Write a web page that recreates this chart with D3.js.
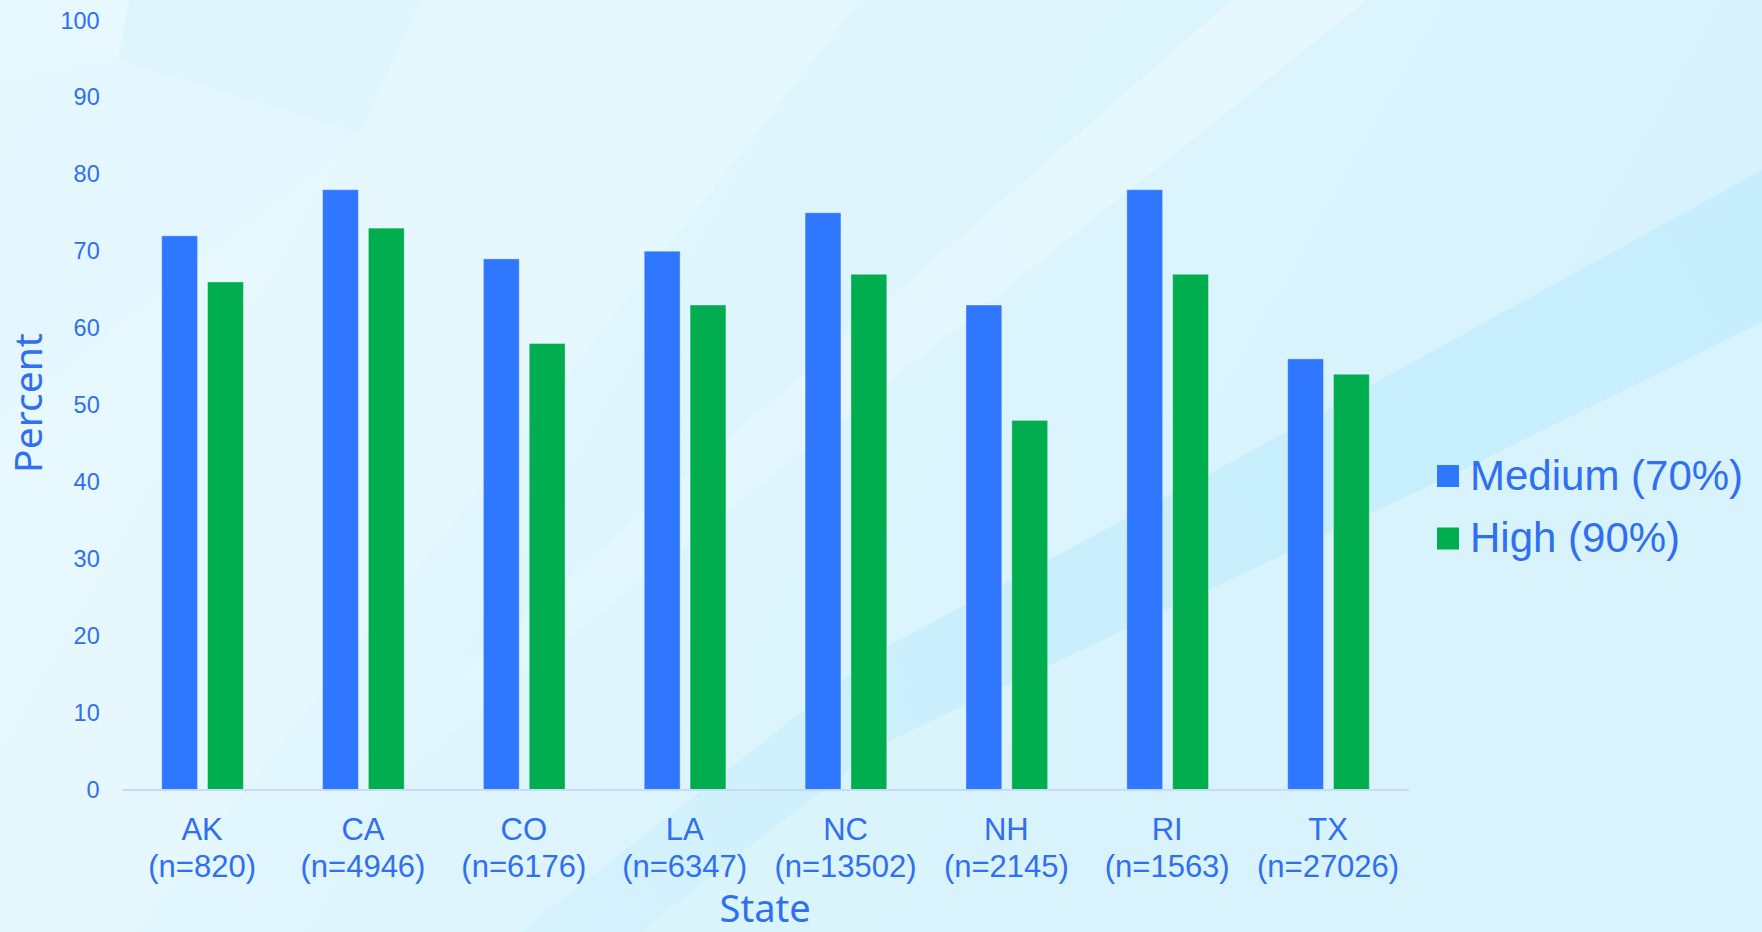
<!DOCTYPE html>
<html>
<head>
<meta charset="utf-8">
<script src="https://cdn.jsdelivr.net/npm/d3@7"></script>
<style>
  html, body { margin: 0; padding: 0; background: #d8f3fc; }
  svg { display: block; }
</style>
</head>
<body>
<svg id="chart" width="1762" height="932"></svg>
<script>
// ---- data ----
const states = ["AK", "CA", "CO", "LA", "NC", "NH", "RI", "TX"];
const sampleSizes = [820, 4946, 6176, 6347, 13502, 2145, 1563, 27026];
const seriesNames = ["Medium (70%)", "High (90%)"];
const mediumValues = [72, 78, 69, 70, 75, 63, 78, 56];
const highValues = [66, 73, 58, 63, 67, 48, 67, 54];
const yTicks = [0, 10, 20, 30, 40, 50, 60, 70, 80, 90, 100];

const seriesValues = [mediumValues, highValues];
const seriesColors = ["#3077ff", "#00ae4f"];

const W = 1762, H = 932;
const plot = { left: 121.7, right: 1408.5, top: 20.5, bottom: 789.5 };
const textBlue = "#2f6ff0";

const svg = d3.select("#chart");

// ---- decorative background ----
const defs = svg.append("defs");
const baseGrad = defs.append("linearGradient").attr("id", "bgBase")
  .attr("x1", "0").attr("y1", "0").attr("x2", "1").attr("y2", "0.3");
baseGrad.append("stop").attr("offset", "0").attr("stop-color", "#e9f9fe");
baseGrad.append("stop").attr("offset", "0.45").attr("stop-color", "#dff5fd");
baseGrad.append("stop").attr("offset", "1").attr("stop-color", "#d6f2fc");

const stripeGrad = defs.append("linearGradient").attr("id", "bgStripe")
  .attr("x1", "0").attr("y1", "0").attr("x2", "0").attr("y2", "1");
stripeGrad.append("stop").attr("offset", "0").attr("stop-color", "#e6f8fe").attr("stop-opacity", 1);
stripeGrad.append("stop").attr("offset", "0.75").attr("stop-color", "#e6f8fe").attr("stop-opacity", 0.5);
stripeGrad.append("stop").attr("offset", "1").attr("stop-color", "#e6f8fe").attr("stop-opacity", 0);

const bandGrad = defs.append("linearGradient").attr("id", "bgBand")
  .attr("gradientUnits", "userSpaceOnUse")
  .attr("x1", 1762).attr("y1", 240).attr("x2", 500).attr("y2", 932);
bandGrad.append("stop").attr("offset", "0").attr("stop-color", "#c6eefc").attr("stop-opacity", 1);
bandGrad.append("stop").attr("offset", "0.6").attr("stop-color", "#c6eefc").attr("stop-opacity", 0.85);
bandGrad.append("stop").attr("offset", "1").attr("stop-color", "#c6eefc").attr("stop-opacity", 0.3);

const bg = svg.append("g").attr("class", "background");
bg.append("rect").attr("width", W).attr("height", H).attr("fill", "url(#bgBase)");

const shapes = [
  { pts: [[0, 0], [860, 0], [135, 932], [0, 932]], fill: "#e7f8fe", op: 0.75 },
  { pts: [[129, 0], [421, 0], [360, 133], [118, 60]], fill: "#dcf4fd", op: 0.8 },
  { pts: [[0, 80], [118, 60], [360, 133], [0, 420]], fill: "#e2f6fd", op: 0.6 },
  { pts: [[1232, 0], [1367, 0], [202, 932], [161, 932]], fill: "url(#bgStripe)", op: 1 },
  { pts: [[1762, 170], [1762, 322], [1471, 466], [881, 745], [640, 932], [520, 932], [881, 650], [1224, 466]], fill: "url(#bgBand)", op: 1 },
  { pts: [[1762, 322], [1762, 932], [640, 932], [881, 745], [1471, 466]], fill: "#d8f3fc", op: 0.6 }
];
bg.selectAll("polygon.deco").data(shapes).join("polygon")
  .attr("class", "deco")
  .attr("points", d => d.pts.map(p => p.join(",")).join(" "))
  .attr("fill", d => d.fill)
  .attr("opacity", d => d.op);

// ---- scales ----
const x0 = d3.scaleBand().domain(states).range([plot.left, plot.right]).padding(0);
const bw = x0.bandwidth();
const x1 = d3.scaleBand().domain(seriesNames)
  .range([bw * 0.2487, bw * 0.7565]).paddingInner(0.218);
const y = d3.scaleLinear().domain([0, 100]).range([plot.bottom, plot.top]);

// ---- y axis labels (no axis line, no ticks) ----
const yAxis = svg.append("g").attr("transform", `translate(${plot.left},0)`)
  .call(d3.axisLeft(y).tickValues(yTicks).tickSize(0).tickPadding(22));
yAxis.select(".domain").remove();
yAxis.selectAll("text")
  .attr("fill", textBlue)
  .attr("font-family", "'Liberation Sans', Arial, sans-serif")
  .attr("font-size", 23.5);

// ---- bars ----
const groups = svg.append("g").selectAll("g.state").data(states).join("g")
  .attr("class", "state")
  .attr("transform", d => `translate(${x0(d)},0)`);

groups.selectAll("rect").data((s, i) => seriesNames.map((name, k) => ({ name, value: seriesValues[k][i], k })))
  .join("rect")
  .attr("x", d => x1(d.name))
  .attr("width", x1.bandwidth())
  .attr("y", d => y(d.value))
  .attr("height", d => y(0) - y(d.value))
  .attr("fill", d => seriesColors[d.k])
  .attr("stroke", "#ffffff")
  .attr("stroke-opacity", 0.35)
  .attr("stroke-width", 1);

// ---- x axis ----
const xAxis = svg.append("g").attr("transform", `translate(0,${plot.bottom})`)
  .call(d3.axisBottom(x0).tickSize(0).tickFormat(""));
xAxis.select(".domain").attr("stroke", "#c9d9fa").attr("stroke-width", 2);

const xLabels = svg.append("g").selectAll("text.xlab").data(states).join("text")
  .attr("class", "xlab")
  .attr("x", d => x0(d) + bw / 2)
  .attr("y", 840)
  .attr("text-anchor", "middle")
  .attr("fill", textBlue)
  .attr("font-family", "'Liberation Sans', Arial, sans-serif")
  .attr("font-size", 31);
xLabels.append("tspan").attr("x", d => x0(d) + bw / 2).attr("y", 840).text(d => d);
xLabels.append("tspan").attr("x", d => x0(d) + bw / 2).attr("y", 877)
  .text((d, i) => `(n=${sampleSizes[i]})`);

// ---- axis titles ----
svg.append("text")
  .attr("x", (plot.left + plot.right) / 2)
  .attr("y", 922)
  .attr("text-anchor", "middle")
  .attr("fill", textBlue)
  .attr("font-family", "'Noto Sans', 'Open Sans', sans-serif")
  .attr("font-size", 38)
  .text("State");

svg.append("text")
  .attr("transform", "translate(42,403) rotate(-90)")
  .attr("text-anchor", "middle")
  .attr("fill", textBlue)
  .attr("font-family", "'Noto Sans', 'Open Sans', sans-serif")
  .attr("font-size", 39)
  .text("Percent");

// ---- legend ----
const legend = svg.append("g").attr("transform", "translate(1437,465)");
const items = legend.selectAll("g").data(seriesNames).join("g")
  .attr("transform", (d, i) => `translate(0,${i * 62.5})`);
items.append("rect").attr("width", 22).attr("height", 22)
  .attr("fill", (d, i) => seriesColors[i]);
items.append("text")
  .attr("x", 33).attr("y", 24.5)
  .attr("fill", textBlue)
  .attr("font-family", "'Liberation Sans', Arial, sans-serif")
  .attr("font-size", 42)
  .text(d => d);
</script>
</body>
</html>
